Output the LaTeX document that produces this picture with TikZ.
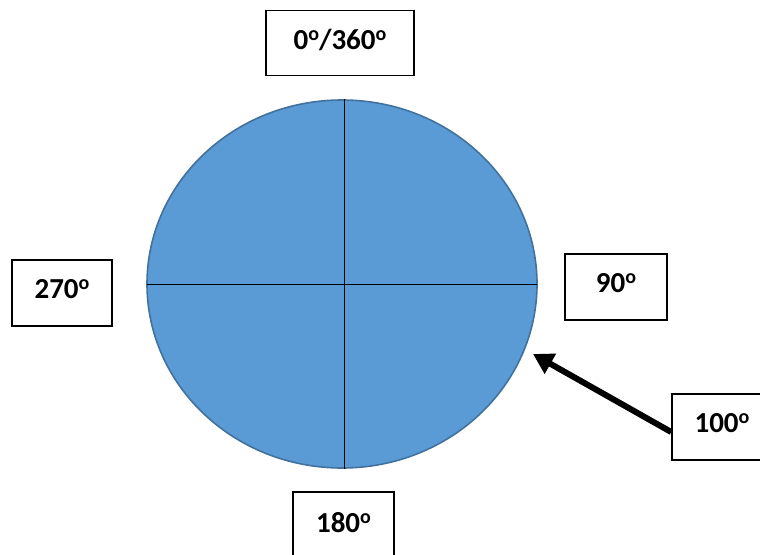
\documentclass[tikz,border=0pt]{standalone}
\usepackage{fontspec}
\setmainfont{Carlito}
\usetikzlibrary{calc,arrows.meta}
\definecolor{discfill}{HTML}{5B9BD5}
\definecolor{discline}{HTML}{41719C}
\newcommand\degsign{\raisebox{8.6pt}{\fontsize{20}{22}\selectfont o}}
\tikzset{
  lbl/.style={draw=black, line width=1.6pt, fill=white, inner sep=0pt, text depth=8pt, font=\fontsize{29}{32}\selectfont\bfseries},
  axis/.style={draw=black, line width=1pt},
}
\begin{document}
\begin{tikzpicture}[x=1pt,y=-1pt]
\useasboundingbox (0,0) rectangle (760,554);
\clip (0,0) rectangle (760,554);
\filldraw[fill=discfill, draw=discline, line width=1.6pt] (342,284) ellipse [x radius=195, y radius=184];
\coordinate (vt) at (344,99);
\coordinate (vb) at (344,469);
\coordinate (hl) at (147,284);
\coordinate (hr) at (537,284);
\draw[axis] (vt) -- (vb);
\draw[axis] (hl) -- (hr);
\node[lbl, minimum width=148, minimum height=65] (b0) at (340,43) {0\degsign/360\degsign};
\node[lbl, minimum width=100, minimum height=66] (b270) at (62,293) {270\degsign};
\node[lbl, minimum width=102, minimum height=66] (b90) at (616,287) {90\degsign};
\node[lbl, minimum width=100, minimum height=66] (b100) at (722,427) {100\degsign};
\node[lbl, text depth=20pt, minimum width=101, minimum height=80] (b180) at (343.5,532) {180\degsign};
\coordinate (tip) at (533,354);
\draw[line width=6pt, -{Triangle[length=20pt,width=22pt]}] ($(b100.west)+(0,5)$) -- (tip);
\end{tikzpicture}
\end{document}
